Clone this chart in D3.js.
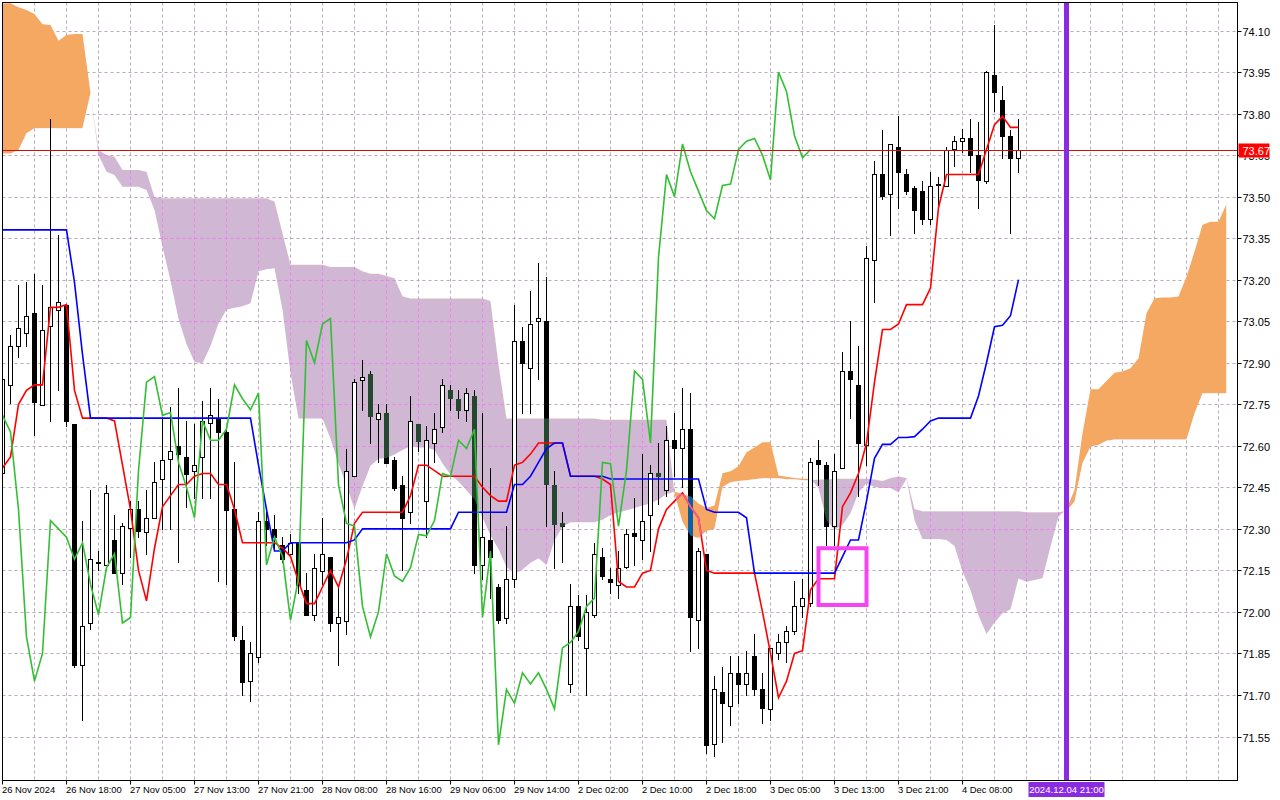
<!DOCTYPE html>
<html>
<head>
<meta charset="utf-8">
<script src="https://cdn.jsdelivr.net/npm/d3@7"></script>
<style>
  html, body { margin: 0; background: #fff; }
  svg { display: block; font-family: "Liberation Sans", Arial, sans-serif; }
</style>
</head>
<body>
<svg id="chart" width="1280" height="800"></svg>
<script>
// ---- candles (one per bar, index 0..127) ----
const opens = [72.50,72.82,72.96,73.01,73.08,72.75,73.03,73.09,73.11,72.68, 71.81,71.96,72.18,72.17,72.26,72.14,72.30,72.37,72.29,72.34,
  72.48,72.55,72.60,72.56,72.51,72.56,72.68,72.70,72.65,72.37, 71.90,71.75,71.84,72.33,72.30,72.24,72.21,72.25,72.08,71.99,
  72.15,72.20,71.96,71.97,72.49,72.84,72.86,72.70,72.72,72.55, 72.46,72.36,72.68,72.40,72.61,72.67,72.80,72.77,72.73,72.78,
  72.17,72.26,72.09,71.98,72.12,72.98,72.88,73.05,73.05,72.46, 72.32,71.74,72.02,71.87,71.99,72.20,72.12,72.10,72.16,72.285,
  72.26,72.35,72.50,72.44,72.62,72.59,72.66,71.97,72.21,71.52, 71.71,71.66,71.78,71.74,71.84,71.72,71.65,71.85,71.89,71.93,
  72.02,72.03,72.55,72.53,72.31,72.52,72.87,72.82,72.605,73.27, 73.58,73.51,73.68,73.58,73.53,73.52,73.42,73.54,73.54,73.67,
  73.70,73.71,73.65,73.555,73.94,73.85,73.72,73.64];
const highs = [72.87,73.00,73.18,73.19,73.22,73.18,73.78,73.36,73.11,72.68, 72.33,72.44,72.22,72.46,72.35,72.32,72.40,72.40,72.44,72.54,
  72.70,72.74,72.81,72.69,72.68,72.76,72.81,72.77,72.66,72.54, 71.95,71.89,72.36,72.36,72.35,72.27,72.28,72.25,72.14,72.21,
  72.34,72.20,72.09,72.59,72.84,72.91,72.87,72.75,72.75,72.56, 72.49,72.78,72.68,72.67,72.72,72.84,72.82,72.80,72.81,72.80,
  72.72,72.52,72.10,72.31,73.11,73.03,73.16,73.26,73.21,72.51, 72.36,72.10,72.06,72.06,72.25,72.23,72.16,72.22,72.30,72.41,
  72.57,72.53,72.61,72.67,72.72,72.81,72.79,72.23,72.21,71.77, 71.80,71.84,71.84,71.86,71.92,71.78,71.87,71.92,71.95,72.11,
  72.12,72.555,72.62,72.54,72.57,72.94,73.05,72.96,73.32,73.63, 73.74,73.69,73.79,73.60,73.54,73.555,73.59,73.57,73.68,73.72,
  73.745,73.78,73.77,73.955,74.12,73.90,73.74,73.78];
const lows = [72.47,72.755,72.92,72.96,72.64,72.75,72.69,72.80,72.67,71.80, 71.61,71.94,72.15,72.17,72.14,72.10,72.20,72.27,72.21,72.34,
  72.30,72.30,72.18,72.38,72.41,72.41,72.41,72.11,72.10,71.90, 71.70,71.68,71.82,72.24,72.23,72.18,72.21,72.07,71.99,71.97,
  72.10,71.93,71.81,71.92,72.49,72.73,72.61,72.54,72.54,72.44, 72.15,72.32,72.58,72.27,72.54,72.65,72.73,72.70,72.69,72.14,
  72.12,72.05,71.96,71.96,72.09,72.72,72.72,72.84,72.31,72.16, 72.18,71.71,71.90,71.70,71.98,72.12,72.07,72.05,72.16,72.17,
  72.19,72.22,72.39,72.42,72.49,72.45,71.86,71.87,71.49,71.48, 71.53,71.59,71.67,71.70,71.70,71.60,71.61,71.83,71.82,71.92,
  71.98,72.02,72.46,72.24,72.24,72.52,72.70,72.42,72.53,73.12, 73.49,73.36,73.46,73.51,73.37,73.40,73.40,73.46,73.54,73.61,
  73.66,73.59,73.46,73.55,73.81,73.64,73.37,73.59];
const closes = [72.84,72.96,73.024,73.07,72.76,73.02,73.10,73.12,72.69,71.81, 71.95,72.19,72.175,72.43,72.14,72.31,72.37,72.29,72.34,72.47,
  72.55,72.58,72.57,72.50,72.53,72.69,72.71,72.65,72.37,71.91, 71.75,71.85,72.33,72.30,72.27,72.19,72.25,72.10,71.99,72.16,
  72.21,71.96,71.98,72.51,72.83,72.85,72.71,72.72,72.54,72.45, 72.34,72.69,72.62,72.62,72.66,72.82,72.77,72.73,72.79,72.17,
  72.27,72.20,71.97,72.12,72.98,72.90,73.04,73.06,72.46,72.32, 72.31,72.02,71.91,72.00,72.21,72.13,72.11,72.16,72.28,72.275,
  72.33,72.50,72.49,72.62,72.59,72.66,71.98,72.22,71.52,71.72, 71.67,71.78,71.74,71.78,71.72,71.65,71.87,71.89,71.93,72.02,
  72.05,72.54,72.535,72.31,72.51,72.87,72.84,72.61,73.28,73.58, 73.50,73.69,73.59,73.52,73.45,73.42,73.54,73.545,73.67,73.70,
  73.71,73.65,73.56,73.95,73.88,73.72,73.64,73.67];

// ---- Ichimoku lines (per bar) ----
const tenkan = [72.52,72.56,72.75,72.80,72.82,72.82,73.10,73.10,73.11,72.80, 72.70,72.70,72.70,72.70,72.69,72.53,72.37,72.15,72.04,72.23,
  72.38,72.42,72.46,72.46,72.49,72.50,72.50,72.46,72.46,72.37, 72.25,72.25,72.25,72.25,72.25,72.23,72.20,72.11,72.03,72.03,
  72.09,72.15,72.09,72.19,72.32,72.36,72.36,72.36,72.36,72.36, 72.36,72.42,72.53,72.53,72.51,72.49,72.49,72.49,72.49,72.49,
  72.45,72.42,72.40,72.40,72.53,72.54,72.57,72.61,72.61,72.61, 72.61,72.49,72.49,72.49,72.49,72.48,72.46,72.11,72.09,72.09,
  72.14,72.15,72.30,72.37,72.40,72.43,72.38,72.34,72.15,72.14, 72.14,72.14,72.14,72.14,72.14,72.00,71.85,71.69,71.75,71.85,
  71.86,72.08,72.12,72.12,72.12,72.38,72.43,72.50,72.61,72.83, 73.02,73.02,73.04,73.11,73.11,73.11,73.17,73.46,73.58,73.58,
  73.58,73.58,73.58,73.67,73.76,73.79,73.75,73.75];
const kijun = [73.38,73.38,73.38,73.38,73.38,73.38,73.38,73.38,73.38,73.19, 72.93,72.70,72.70,72.70,72.70,72.70,72.70,72.70,72.70,72.70,
  72.70,72.70,72.70,72.70,72.70,72.70,72.70,72.70,72.70,72.70, 72.70,72.70,72.53,72.37,72.22,72.22,72.25,72.25,72.25,72.25,
  72.25,72.25,72.25,72.25,72.26,72.30,72.30,72.30,72.30,72.30, 72.30,72.30,72.30,72.30,72.30,72.30,72.30,72.36,72.36,72.36,
  72.36,72.36,72.36,72.36,72.46,72.46,72.49,72.54,72.59,72.61, 72.61,72.49,72.49,72.49,72.49,72.49,72.48,72.48,72.48,72.48,
  72.48,72.48,72.48,72.48,72.48,72.48,72.48,72.48,72.37,72.36, 72.36,72.36,72.36,72.34,72.14,72.14,72.14,72.14,72.14,72.14,
  72.14,72.14,72.14,72.14,72.14,72.20,72.26,72.26,72.40,72.555, 72.605,72.605,72.63,72.63,72.633,72.66,72.69,72.70,72.70,72.70,
  72.70,72.70,72.78,72.90,73.03,73.035,73.07,73.20];
// Chikou span = closes shown 26 bars back
const chikouShift = 26;

// ---- Kumo spans, already shifted 26 bars ahead (index 0..153) ----
const spanA = [74.198,74.198,74.184,74.174,74.160,74.123,74.120,74.063,74.084,74.087,74.087,73.874,
  73.650,73.590,73.578,73.536,73.536,73.536,73.524,73.452,73.319,73.197,73.058,72.968,72.903,
  72.898,72.960,73.042,73.091,73.099,73.104,73.115,73.230,73.238,73.241,73.091,
  72.863,72.699,72.699,72.699,72.699,72.626,72.536,72.455,72.373,72.455,72.528,72.553,72.556,72.569,
  72.585,72.598,72.594,72.594,72.585,72.536,72.496,72.471,72.439,72.406,72.341,72.276,72.227,72.162,
  72.137,72.153,72.178,72.194,72.169,72.259,72.308,72.324,72.324,72.324,72.324,
  72.333,72.350,72.359,72.367,72.375,72.384,72.392,72.406,72.426,
  72.434,72.426,72.417,72.392,72.375,72.384,72.501,72.508,72.526,72.577,72.594,72.613,72.613,72.493,72.488,72.484,72.481,72.481,
  72.448,72.331,72.297,72.314,72.356,72.431,72.465,72.451,72.448,72.448,72.431,72.481,
  72.331,72.263,72.263,72.263,72.260,72.238,72.146,72.079,71.987,71.920,71.962,71.995,72.009,72.121,72.109,72.115,72.122,72.236,72.344,
  72.372,72.440,72.645,72.804,72.804,72.834,72.864,72.868,72.880,72.916,73.079,73.133,73.136,73.136,73.139,73.211,73.301,73.398,73.409,73.409,73.473];
const spanB = [73.656,73.656,73.668,73.729,73.747,73.747,73.747,73.747,73.747,73.747,73.747,73.874,
  73.668,73.650,73.644,73.596,73.596,73.596,73.590,73.499,73.494,73.494,73.494,73.494,73.494,
  73.494,73.494,73.494,73.494,73.494,73.494,73.494,73.494,73.494,73.482,73.368,
  73.254,73.254,73.254,73.254,73.254,73.246,73.246,73.246,73.246,73.230,73.221,73.221,73.213,73.205,
  73.140,73.132,73.132,73.132,73.132,73.132,73.132,73.132,73.132,73.132,73.132,73.123,72.895,72.699,
  72.699,72.699,72.699,72.699,72.699,72.699,72.699,72.699,72.699,72.699,72.699,
  72.694,72.694,72.694,72.694,72.694,72.694,72.694,72.694,72.694,
  72.426,72.325,72.275,72.267,72.292,72.300,72.451,72.468,72.473,72.476,72.479,72.483,72.483,72.483,72.479,72.479,72.476,72.476,
  72.478,72.478,72.481,72.481,72.481,72.481,72.481,72.478,72.473,72.484,72.489,72.484,
  72.372,72.364,72.364,72.364,72.364,72.364,72.364,72.364,72.364,72.364,72.364,72.364,72.364,72.364,72.360,72.360,72.360,72.360,72.360,
  72.365,72.398,72.537,72.597,72.603,72.618,72.623,72.623,72.623,72.623,72.623,72.623,72.623,72.623,72.623,72.623,72.717,72.790,72.790,72.790,72.790];

// ---- axes ----
const priceTicks = [74.10,73.95,73.80,73.65,73.50,73.35,73.20,73.05,72.90,72.75,72.60,72.45,72.30,72.15,72.00,71.85,71.70,71.55];
const timeLabels = ["26 Nov 2024","26 Nov 18:00","27 Nov 05:00","27 Nov 13:00","27 Nov 21:00","28 Nov 08:00","28 Nov 16:00",
  "29 Nov 06:00","29 Nov 14:00","2 Dec 02:00","2 Dec 10:00","2 Dec 18:00","3 Dec 05:00","3 Dec 13:00","3 Dec 21:00","4 Dec 08:00"];
const timeLabelBars = [0,8,16,24,32,40,48,56,64,72,80,88,96,104,112,120];

// ---- markers ----
const lastPrice = 73.67;
const cursorBar = 133, cursorLabel = "2024.12.04 21:00";
const boxBars = [102, 108], boxPrices = [72.23, 72.025];

// ---- layout ----
const W = 1280, H = 800;
const plot = { left: 2.5, top: 2.5, right: 1237.5, bottom: 780.5 };
const nBars = closes.length, nCloud = spanA.length;

const x = d3.scaleLinear().domain([0, 1]).range([2.5, 10.5]);
const y = d3.scaleLinear().domain([71.55, 74.10]).range([736.5, 30.5]);
const px = v => Math.round(v) + 0.5;

const svg = d3.select("#chart");
const defs = svg.append("defs");

defs.append("clipPath").attr("id", "plotClip")
  .append("rect").attr("x", plot.left).attr("y", plot.top)
  .attr("width", plot.right - plot.left).attr("height", plot.bottom - plot.top);

const idx = d3.range(nCloud);
const cloudArea = d3.area().x(i => x(i)).y0(i => y(spanA[i])).y1(i => y(spanB[i]));
const aboveB = d3.area().x(i => x(i)).y0(0).y1(i => y(spanB[i]));
const belowB = d3.area().x(i => x(i)).y0(i => y(spanB[i])).y1(H);

defs.append("clipPath").attr("id", "aboveB").append("path").attr("d", aboveB(idx));
defs.append("clipPath").attr("id", "belowB").append("path").attr("d", belowB(idx));
defs.append("clipPath").attr("id", "cloudClip").append("path").attr("d", cloudArea(idx));

const root = svg.append("g").attr("clip-path", "url(#plotClip)");

// grid
const gridColor = "#b8aab8";
const vGrid = d3.range(0, nCloud + 1, 4);
function drawGrid(g, color) {
  g.selectAll("line.h").data(priceTicks).enter().append("line")
    .attr("x1", plot.left).attr("x2", plot.right)
    .attr("y1", d => px(y(d))).attr("y2", d => px(y(d)))
    .attr("stroke", color).attr("stroke-dasharray", "3,3");
  g.selectAll("line.v").data(vGrid).enter().append("line")
    .attr("x1", d => x(d)).attr("x2", d => x(d))
    .attr("y1", plot.top).attr("y2", plot.bottom)
    .attr("stroke", color).attr("stroke-dasharray", "3,3");
}
drawGrid(root.append("g"), gridColor);

// kumo: orange where spanA above spanB, thistle where spanB above
root.append("g").attr("clip-path", "url(#aboveB)")
  .append("path").attr("d", cloudArea(idx)).attr("fill", "#f5a862");
root.append("g").attr("clip-path", "url(#belowB)")
  .append("path").attr("d", cloudArea(idx)).attr("fill", "#d0b7d4");
drawGrid(root.append("g").attr("clip-path", "url(#belowB)")
  .append("g").attr("clip-path", "url(#cloudClip)"), "#f27af2");

// candles
const bars = d3.range(nBars);
const cg = root.append("g");
cg.selectAll("line.wick").data(bars).enter().append("line")
  .attr("x1", i => x(i)).attr("x2", i => x(i))
  .attr("y1", i => Math.round(y(highs[i]))).attr("y2", i => Math.round(y(lows[i])) + 1)
  .attr("stroke", "#000").attr("stroke-width", 1);

function bodyRect(sel) {
  return sel.attr("x", i => x(i) - 2).attr("width", 4)
    .attr("y", i => px(y(Math.max(opens[i], closes[i]))))
    .attr("height", i => Math.max(0.01, Math.round(Math.abs(y(opens[i]) - y(closes[i])))));
}
bodyRect(cg.selectAll("rect.body").data(bars).enter().append("rect"))
  .attr("fill", i => closes[i] >= opens[i] ? "#fff" : "#000")
  .attr("stroke", "#000").attr("stroke-width", 1);

// bearish bodies change tint where they cross the kumo
const bears = bars.filter(i => closes[i] < opens[i]);
bodyRect(root.append("g").attr("clip-path", "url(#belowB)")
  .append("g").attr("clip-path", "url(#cloudClip)")
  .selectAll("rect").data(bears).enter().append("rect"))
  .attr("fill", "#23482e").attr("stroke", "#23482e");
bodyRect(root.append("g").attr("clip-path", "url(#aboveB)")
  .append("g").attr("clip-path", "url(#cloudClip)")
  .selectAll("rect").data(bears).enter().append("rect"))
  .attr("fill", "#0d5fa3").attr("stroke", "#0d5fa3");

// lines
const line = d3.line().x((d, i) => x(i)).y(d => y(d));
root.append("path").attr("d", line(tenkan)).attr("fill", "none")
  .attr("stroke", "#ff0000").attr("stroke-width", 1.6);
root.append("g").attr("clip-path", "url(#aboveB)")
  .append("g").attr("clip-path", "url(#cloudClip)")
  .append("path").attr("d", line(tenkan)).attr("fill", "none")
  .attr("stroke", "#f0609c").attr("stroke-width", 1.6);
root.append("path").attr("d", line(kijun)).attr("fill", "none")
  .attr("stroke", "#0000ff").attr("stroke-width", 1.6);
root.append("path").attr("d", line(closes.slice(chikouShift))).attr("fill", "none")
  .attr("stroke", "#33bf33").attr("stroke-width", 1.6);

// last price line
root.append("line")
  .attr("x1", plot.left).attr("x2", plot.right)
  .attr("y1", px(y(lastPrice))).attr("y2", px(y(lastPrice)))
  .attr("stroke", "#d01010").attr("stroke-width", 1);

// vertical cursor line
root.append("line")
  .attr("x1", x(cursorBar)).attr("x2", x(cursorBar))
  .attr("y1", plot.top).attr("y2", plot.bottom)
  .attr("stroke", "#8a2be2").attr("stroke-width", 5);

// highlight box
root.append("rect")
  .attr("x", x(boxBars[0])).attr("width", x(boxBars[1]) - x(boxBars[0]))
  .attr("y", y(boxPrices[0])).attr("height", y(boxPrices[1]) - y(boxPrices[0]))
  .attr("fill", "none").attr("stroke", "#f545f0").attr("stroke-width", 4);

// frame
svg.append("rect").attr("x", plot.left).attr("y", plot.top)
  .attr("width", plot.right - plot.left).attr("height", plot.bottom - plot.top)
  .attr("fill", "none").attr("stroke", "#000").attr("stroke-width", 1);

// price axis (the 73.65 label sits under the last-price tag, as in MT5)
const pa = svg.append("g");
pa.selectAll("line").data(priceTicks).enter().append("line")
  .attr("x1", plot.right).attr("x2", plot.right + 4)
  .attr("y1", d => px(y(d))).attr("y2", d => px(y(d)))
  .attr("stroke", "#000");
pa.selectAll("text").data(priceTicks.filter(d => Math.abs(y(d) - y(lastPrice)) > 12)).enter().append("text")
  .attr("x", plot.right + 5).attr("y", d => px(y(d)) + 4)
  .attr("font-size", 11).attr("fill", "#000")
  .text(d => d.toFixed(2));

// last price tag
const lpY = px(y(lastPrice));
svg.append("rect").attr("x", plot.right + 1).attr("y", lpY - 7)
  .attr("width", 31).attr("height", 14).attr("fill", "#ff0000");
svg.append("text").attr("x", plot.right + 5).attr("y", lpY + 4)
  .attr("font-size", 11).attr("fill", "#fff").text(lastPrice.toFixed(2));
// partially covered tick label below the tag
const hidden = priceTicks.filter(d => Math.abs(y(d) - y(lastPrice)) <= 12);
svg.append("clipPath").attr("id", "belowTag")
  .append("rect").attr("x", plot.right).attr("y", lpY + 7).attr("width", 40).attr("height", 20);
svg.append("g").attr("clip-path", "url(#belowTag)")
  .selectAll("text").data(hidden).enter().append("text")
  .attr("x", plot.right + 5).attr("y", d => px(y(d)) + 4)
  .attr("font-size", 11).attr("fill", "#000")
  .text(d => d.toFixed(2));

// time axis
const ta = svg.append("g");
ta.selectAll("line").data(timeLabelBars).enter().append("line")
  .attr("x1", i => x(i)).attr("x2", i => x(i))
  .attr("y1", plot.bottom).attr("y2", plot.bottom + 4)
  .attr("stroke", "#000");
ta.selectAll("text").data(timeLabels).enter().append("text")
  .attr("x", (d, k) => x(timeLabelBars[k]) - 0.5).attr("y", 792.5)
  .attr("font-size", 9.4).attr("fill", "#000")
  .text(d => d);

// cursor time tag
const cx = x(cursorBar);
svg.append("rect").attr("x", cx - 38).attr("y", 782)
  .attr("width", 76).attr("height", 15).attr("fill", "#8a2be2");
svg.append("text").attr("x", cx).attr("y", 793).attr("text-anchor", "middle")
  .attr("font-size", 9.6).attr("fill", "#fff").text(cursorLabel);
</script>
</body>
</html>
